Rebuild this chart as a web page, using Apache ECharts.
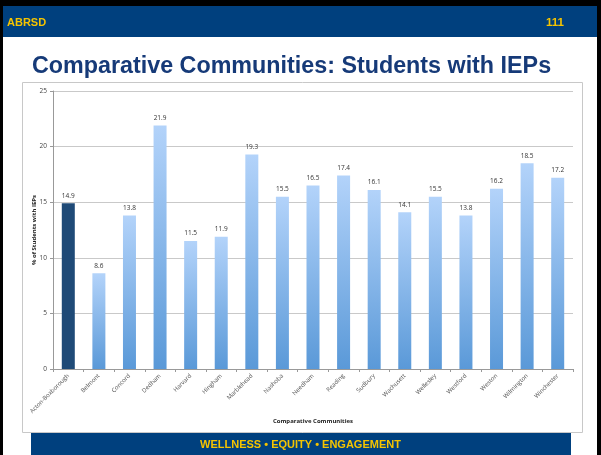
<!DOCTYPE html>
<html>
<head>
<meta charset="utf-8">
<script src="https://cdn.jsdelivr.net/npm/echarts@6/dist/echarts.min.js"></script>
<style>
  html, body { margin: 0; padding: 0; background: #000; }
  #chart { width: 601px; height: 455px; }
</style>
</head>
<body>
<div id="chart"></div>
<script>
// Share of students with IEPs in each comparative community
const communities = [
  'Acton-Boxborough', 'Belmont', 'Concord', 'Dedham', 'Harvard', 'Hingham',
  'Marblehead', 'Nashoba', 'Needham', 'Reading', 'Sudbury', 'Wachusett',
  'Wellesley', 'Westford', 'Weston', 'Wilmington', 'Winchester'
];
const iepPercent = [
  14.9, 8.6, 13.8, 21.9, 11.5, 11.9,
  19.3, 15.5, 16.5, 17.4, 16.1, 14.1,
  15.5, 13.8, 16.2, 18.5, 17.2
];
const highlighted = 'Acton-Boxborough';
const yTicks = { min: 0, max: 25, interval: 5 };

const navy = '#00407e';
const gold = '#f5c400';

const barFill = new echarts.graphic.LinearGradient(0, 0, 0, 1, [
  { offset: 0, color: '#b3d3fa' },
  { offset: 1, color: '#5a99d8' }
]);

const chart = echarts.init(document.getElementById('chart'), null, { renderer: 'canvas' });

chart.setOption({
  backgroundColor: '#000',
  animation: false,
  graphic: [
    // slide body
    { type: 'rect', shape: { x: 3, y: 6, width: 594, height: 449 }, style: { fill: '#fff' }, z: -10 },
    // header band
    { type: 'rect', shape: { x: 3, y: 6, width: 594, height: 31 }, style: { fill: navy }, z: -5 },
    { type: 'text', left: 7, top: 17, style: { text: 'ABRSD', fill: gold, font: 'bold 11px "Liberation Sans", Arial, sans-serif' } },
    { type: 'text', left: 546, top: 17, style: { text: '111', fill: gold, font: 'bold 11.5px "Liberation Sans", Arial, sans-serif' } },
    // chart frame
    { type: 'rect', shape: { x: 22.5, y: 82.5, width: 560, height: 350 }, style: { fill: '#fff', stroke: '#c8c8c8', lineWidth: 1 }, z: -4 },
    // footer band
    { type: 'rect', shape: { x: 31, y: 433, width: 540, height: 22 }, style: { fill: navy }, z: -5 },
    { type: 'text', left: 'center', top: 439, style: { text: 'WELLNESS \u2022 EQUITY \u2022 ENGAGEMENT', fill: gold, font: 'bold 11px "Liberation Sans", Arial, sans-serif' } }
  ],
  title: {
    text: 'Comparative Communities: Students with IEPs',
    left: 32,
    top: 55,
    padding: 0,
    textStyle: { color: '#163a78', fontSize: 23.3, fontWeight: 'bold', fontFamily: '"Liberation Sans", Arial, sans-serif' }
  },
  grid: { left: 53, right: 28, top: 91, bottom: 86, containLabel: false },
  xAxis: {
    type: 'category',
    data: communities,
    name: 'Comparative Communities',
    nameLocation: 'middle',
    nameGap: 49,
    nameMoveOverlap: false,
    nameTextStyle: { fontSize: 6, fontWeight: 'bold', color: '#222', fontFamily: '"Open Sans", sans-serif' },
    axisLine: { lineStyle: { color: '#999' } },
    axisTick: { show: true, alignWithLabel: false, length: 3, lineStyle: { color: '#999' } },
    axisLabel: { rotate: 45, fontSize: 6, color: '#555', margin: 6, interval: 0, fontFamily: '"Open Sans", sans-serif' }
  },
  yAxis: {
    type: 'value',
    min: yTicks.min,
    max: yTicks.max,
    interval: yTicks.interval,
    name: '% of Students with IEPs',
    nameLocation: 'middle',
    nameGap: 16,
    nameMoveOverlap: false,
    nameRotate: 90,
    nameTextStyle: { fontSize: 6, fontWeight: 'bold', color: '#222', fontFamily: '"Open Sans", sans-serif' },
    axisLine: { show: true, lineStyle: { color: '#999' } },
    axisTick: { show: true, length: 3, lineStyle: { color: '#999' } },
    axisLabel: { fontSize: 6.5, color: '#444', margin: 6, fontFamily: '"Open Sans", sans-serif' },
    splitLine: { lineStyle: { color: '#c9c9c9' } }
  },
  series: [{
    type: 'bar',
    barWidth: 13,
    data: iepPercent.map((v, i) => ({
      value: v,
      itemStyle: { color: communities[i] === highlighted ? '#1f4a77' : barFill }
    })),
    label: {
      show: true,
      position: 'top',
      distance: 4,
      fontSize: 6.5,
      color: '#333',
      fontFamily: '"Open Sans", sans-serif',
      formatter: p => p.value.toFixed(1)
    }
  }]
});
</script>
</body>
</html>
